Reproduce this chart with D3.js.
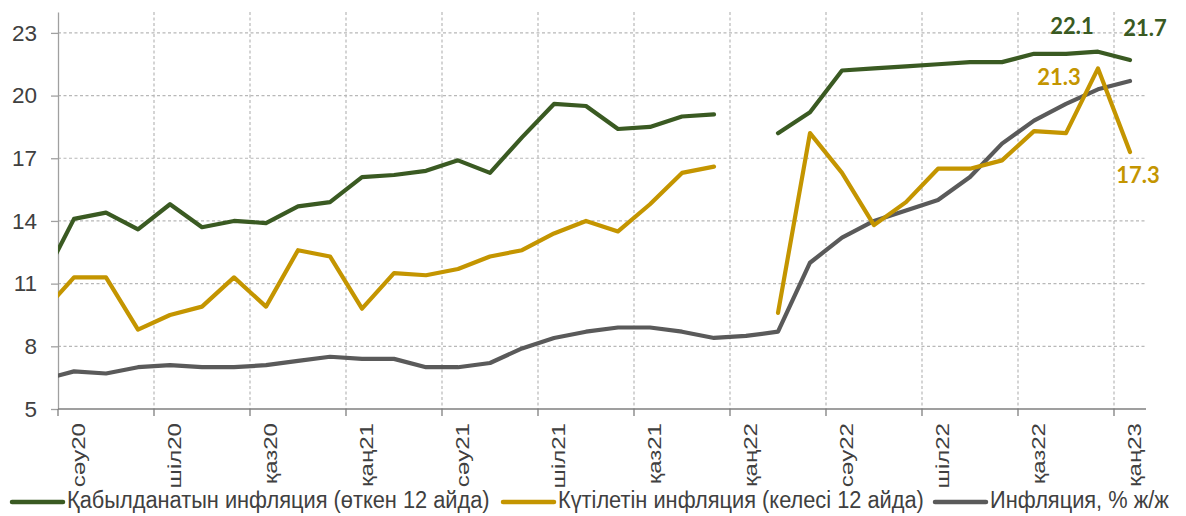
<!DOCTYPE html>
<html>
<head>
<meta charset="utf-8">
<script src="https://cdn.jsdelivr.net/npm/d3@7"></script>
<style>
  body { margin: 0; background: #fff; }
  svg { display: block; }
</style>
</head>
<body>
<svg id="chart"></svg>
<script>
// months from Mar 2020 to Jan 2023, first one is only partly visible
var months = ['нау20','сәу20','мам20','мау20','шіл20','там20','қыр20','қаз20','қар20','жел20',
  'қаң21','ақп21','нау21','сәу21','мам21','мау21','шіл21','там21','қыр21','қаз21','қар21','жел21',
  'қаң22','ақп22','нау22','сәу22','мам22','мау22','шіл22','там22','қыр22','қаз22','қар22','жел22',
  'қаң23'];

var perceived = [11.1, 14.1,14.4,13.6,14.8,13.7,14.0,13.9,14.7,14.9,
  16.1,16.2,16.4,16.9,16.3,18.0,19.6,19.5,18.4,18.5,19.0,19.1,
  null,18.2,19.2,21.2,21.3,21.4,21.5,21.6,21.6,22.0,22.0,22.1,
  21.7];
var expected = [9.6, 11.3,11.3,8.8,9.5,9.9,11.3,9.9,12.6,12.3,
  9.8,11.5,11.4,11.7,12.3,12.6,13.4,14.0,13.5,14.8,16.3,16.6,
  null,9.6,18.2,16.3,13.8,14.9,16.5,16.5,16.9,18.3,18.2,21.3,
  17.3];
var inflation = [6.4, 6.8,6.7,7.0,7.1,7.0,7.0,7.1,7.3,7.5,
  7.4,7.4,7.0,7.0,7.2,7.9,8.4,8.7,8.9,8.9,8.7,8.4,
  8.5,8.7,12.0,13.2,14.0,14.5,15.0,16.1,17.7,18.8,19.6,20.3,
  20.7];

var tickMonths = ['сәу20','шіл20','қаз20','қаң21','сәу21','шіл21','қаз21','қаң22','сәу22','шіл22','қаз22','қаң23'];
var yTicks = [5, 8, 11, 14, 17, 20, 23];

var seriesNames = ['Қабылданатын инфляция (өткен 12 айда)', 'Күтілетін инфляция (келесі 12 айда)', 'Инфляция, % ж/ж'];
var colors = ['#3a5a22', '#c49500', '#5a5a5a'];

// labels on last points: [series index, month, dx, dy]
var endLabels = [[0, 'жел22', -26, -18], [0, 'қаң23', 15, -24], [1, 'жел22', -39, 17], [1, 'қаң23', 8, 31]];

var width = 1186, height = 516;
var plotLeft = 58, plotRight = 1146, plotTop = 12, plotBottom = 409;

var svg = d3.select('#chart').attr('width', width).attr('height', height);

var x = d3.scaleBand().domain(months).range([plotLeft - 32, plotRight]).paddingInner(0).paddingOuter(0);
var bw = x.bandwidth();
var y = d3.scaleLinear().domain([5, 24]).range([plotBottom, plotTop]);
function cx(m) { return x(m) + bw / 2; }

// grid
svg.append('g').selectAll('line').data(yTicks.slice(1)).enter().append('line')
  .attr('x1', plotLeft).attr('x2', plotRight)
  .attr('y1', function(d) { return y(d); }).attr('y2', function(d) { return y(d); })
  .attr('stroke', '#b8b8b8').attr('stroke-width', 1.2).attr('stroke-dasharray', '3,2.5');

svg.append('g').selectAll('line').data(tickMonths.slice(1)).enter().append('line')
  .attr('x1', function(d) { return x(d); }).attr('x2', function(d) { return x(d); })
  .attr('y1', plotTop).attr('y2', plotBottom)
  .attr('stroke', '#b8b8b8').attr('stroke-width', 1.2).attr('stroke-dasharray', '3,2.5');

// y axis
var yAxis = svg.append('g').attr('transform', 'translate(' + plotLeft + ',0)')
  .call(d3.axisLeft(y).tickValues(yTicks).tickSize(7).tickSizeOuter(0).tickPadding(14));
yAxis.select('.domain').attr('stroke', '#a0a0a0').attr('stroke-width', 1.3);
yAxis.selectAll('.tick line').attr('stroke', '#a0a0a0').attr('stroke-width', 1.3);
yAxis.selectAll('.tick text').attr('fill', '#404040')
  .style('font-family', 'Liberation Sans, Arial, sans-serif').style('font-size', '22.5px');

// x axis line and ticks
var xg = svg.append('g');
xg.append('line').attr('x1', plotLeft).attr('x2', plotRight).attr('y1', plotBottom).attr('y2', plotBottom)
  .attr('stroke', '#7f7f7f').attr('stroke-width', 1.3);
xg.selectAll('line.tk').data(tickMonths).enter().append('line').attr('class', 'tk')
  .attr('x1', function(d) { return x(d); }).attr('x2', function(d) { return x(d); })
  .attr('y1', plotBottom).attr('y2', plotBottom + 7)
  .attr('stroke', '#7f7f7f').attr('stroke-width', 1.3);
xg.selectAll('text').data(tickMonths).enter().append('text')
  .attr('transform', function(d) { return 'translate(' + (cx(d) + 11) + ',' + (plotBottom + 14) + ') scale(1,1.3) rotate(-90)'; })
  .attr('text-anchor', 'end')
  .attr('fill', '#404040')
  .style('font-family', 'Liberation Sans, Arial, sans-serif').style('font-size', '18.5px')
  .text(function(d) { return d; });

// lines
svg.append('clipPath').attr('id', 'plot')
  .append('rect').attr('x', plotLeft).attr('y', 0).attr('width', plotRight - plotLeft).attr('height', plotBottom + 5);

var line = d3.line()
  .defined(function(d) { return d[1] != null; })
  .x(function(d) { return cx(d[0]); })
  .y(function(d) { return y(d[1]); });

var allSeries = [perceived, expected, inflation];
var plot = svg.append('g').attr('clip-path', 'url(#plot)');
[2, 1, 0].forEach(function(k) {
  var pts = months.map(function(m, i) { return [m, allSeries[k][i]]; });
  plot.append('path').datum(pts)
    .attr('d', line)
    .attr('fill', 'none')
    .attr('stroke', colors[k])
    .attr('stroke-width', 4.2)
    .attr('stroke-linejoin', 'round')
    .attr('stroke-linecap', 'round');
});

// end labels
svg.selectAll('text.lbl').data(endLabels).enter().append('text').attr('class', 'lbl')
  .attr('x', function(d) { return cx(d[1]) + d[2]; })
  .attr('y', function(d) { return y(allSeries[d[0]][months.indexOf(d[1])]) + d[3]; })
  .attr('text-anchor', 'middle')
  .attr('fill', function(d) { return colors[d[0]]; })
  .style('font-family', 'Lato, sans-serif').style('font-weight', 'bold').style('font-size', '22px')
  .text(function(d) { return allSeries[d[0]][months.indexOf(d[1])].toFixed(1); });

// legend
var legendX = [12, 503, 935];
var legend = svg.append('g');
seriesNames.forEach(function(name, k) {
  legend.append('line')
    .attr('x1', legendX[k]).attr('x2', legendX[k] + 51)
    .attr('y1', 502).attr('y2', 502)
    .attr('stroke', colors[k]).attr('stroke-width', 4.5).attr('stroke-linecap', 'round');
  legend.append('text')
    .attr('transform', 'translate(' + (legendX[k] + 55) + ',508) scale(1,1.06)')
    .attr('fill', '#404040')
    .style('font-family', 'Liberation Sans, Arial, sans-serif').style('font-size', '21.8px')
    .text(name);
});
</script>
</body>
</html>
